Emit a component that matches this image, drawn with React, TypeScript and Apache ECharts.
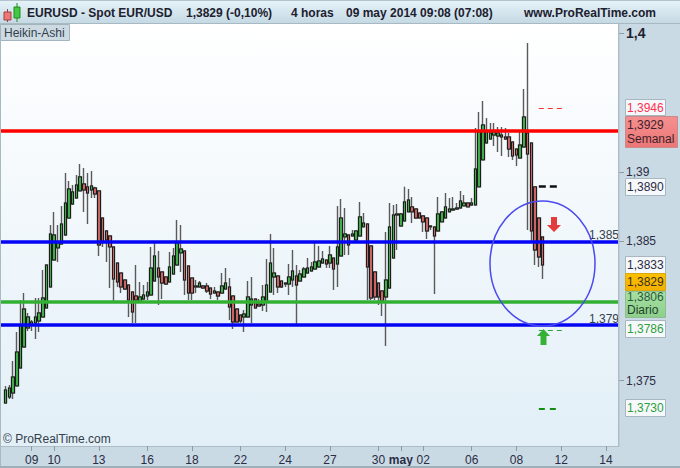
import React, { useEffect, useRef } from "react";
import * as echarts from "echarts";

// Prices in 1/100000 of a unit, one entry per 4-hour Heikin-Ashi candle
const candleOpen = [
  137338,137381,137410,137461,137590,137741,137878,137921,137914,137928,
  137957,138022,138173,138367,138454,138482,138547,138669,138770,138813,
  138864,138914,138893,138871,138885,138864,138669,138576,138540,138461,
  138345,138273,138223,138187,138137,138108,138065,138086,138108,138115,
  138216,138309,138281,138245,138209,138266,138331,138418,138432,138324,
  138237,138180,138173,138180,138180,138165,138129,138137,138129,138158,
  138173,138108,138014,137971,137957,137957,138043,138086,138050,138043,
  138065,138137,138245,138252,138216,138194,138194,138223,138252,138216,
  138245,138273,138288,138302,138317,138345,138367,138345,138381,138338,
  138396,138533,138547,138540,138511,138540,138605,138626,138468,138281,
  138201,138144,138101,138165,138381,138691,138612,138648,138713,138749,
  138734,138705,138684,138669,138612,138605,138576,138641,138669,138713,
  138727,138734,138741,138756,138777,138763,138763,138893,139087,139209,
  139237,139266,139259,139266,139252,139252,139216,139165,139101,139180,
  139281,139209,138893,138669,138533,
];
const candleClose = [
  137432,137446,137525,137705,137899,138014,137957,137899,137957,137986,
  138094,138331,138554,138547,138490,138626,138777,138878,138857,138907,
  138965,138871,138849,138900,138842,138475,138497,138511,138461,138230,
  138209,138173,138158,138079,137993,138079,138101,138115,138137,138309,
  138396,138245,138201,138194,138317,138396,138490,138446,138223,138129,
  138129,138173,138201,138165,138144,138122,138144,138108,138180,138201,
  138029,137921,137921,137928,137978,138101,138086,138022,138036,138101,
  138187,138345,138273,138173,138173,138201,138245,138288,138187,138266,
  138302,138309,138317,138353,138360,138374,138338,138403,138302,138461,
  138669,138554,138475,138554,138576,138677,138633,138317,138094,138101,
  138101,138072,138223,138605,138691,138698,138698,138785,138799,138713,
  138669,138669,138641,138576,138605,138540,138698,138713,138749,138734,
  138734,138741,138792,138777,138749,138777,139022,139288,139338,139288,
  139281,139288,139281,139252,139237,139165,139115,139122,139194,139396,
  139129,138576,138439,138389,138331,
];
const candleLow = [
  137338,137367,137367,137461,137590,137741,137856,137856,137799,137849,
  137957,138022,138173,138367,138353,138482,138540,138669,138763,138813,
  138864,138713,138626,138813,138813,138396,138461,138353,138165,138072,
  138173,138129,138151,137957,137914,137914,138065,138079,138079,138115,
  138216,138043,138086,138187,138209,138266,138331,138281,138115,138079,
  138079,138129,138173,138165,138129,138086,138129,138079,138129,138158,
  137935,137871,137921,137914,137849,137957,137914,138022,138036,138000,
  137993,138137,138115,138129,138165,138173,138115,138173,137906,138216,
  138245,138273,138288,138302,138317,138345,138309,138309,138151,138173,
  138396,138403,138403,138540,138511,138540,138605,138079,138079,138079,
  138043,137964,137749,138165,138381,138439,138612,138648,138713,138633,
  138669,138669,138569,138518,138583,138122,138576,138641,138669,138713,
  138720,138727,138741,138756,138749,138756,138763,138893,139087,139209,
  139237,139187,139144,139115,139237,139108,139087,139043,139101,139180,
  138583,138490,138331,138317,138230,
];
const candleHigh = [
  137461,137468,137640,137849,138079,138129,137986,137935,138094,138094,
  138295,138331,138619,138713,138619,138756,138993,138936,138907,138979,
  139058,139029,138993,139008,138893,138864,138669,138583,138540,138461,
  138345,138273,138223,138187,138137,138331,138209,138187,138209,138461,
  138490,138432,138281,138245,138425,138454,138655,138619,138432,138324,
  138237,138223,138216,138187,138201,138165,138173,138137,138273,138309,
  138237,138108,138014,137971,138007,138216,138245,138086,138086,138187,
  138374,138554,138454,138252,138216,138201,138338,138439,138331,138295,
  138317,138381,138353,138490,138468,138432,138367,138468,138381,138756,
  138806,138741,138547,138583,138576,138785,138705,138626,138468,138281,
  138201,138144,138569,138777,138763,138770,138705,138893,138878,138821,
  138734,138705,138684,138669,138612,138605,138821,138713,138849,138813,
  138821,138777,138864,138835,138777,138813,139317,139432,139511,139388,
  139353,139353,139324,139324,139317,139281,139216,139165,139302,139597,
  139928,139209,138893,138669,138533,
];

const tickSlots = [8, 14, 26, 39, 51, 64, 76, 88, 101, 107, 113, 126, 138, 150, 162];
const tickLabels = ["09", "10", "13", "16", "18", "22", "24", "27", "30", "may", "02", "06", "08", "12", "14"];
const slotCount = 166;

const yTicks = [1.375, 1.385, 1.39, 1.4];
const levelWeekly = 1.39295;
const levelBlueHigh = 1.385;
const levelDaily = 1.38063;
const levelBlueLow = 1.379;
const dashRed = 1.3946;
const dashBlack = 1.389;
const dashGreenHigh = 1.3786;
const dashGreenLow = 1.373;

const FONT = "Liberation Sans";
const DARK = "#2c2c44";

const toPrice = (v: number) => v / 100000;
const comma = (v: number) => String(v).replace(".", ",");

function txt(x: number, y: number, text: string, extra: any = {}) {
  return {
    type: "text",
    x,
    y,
    z: 20,
    silent: true,
    style: { text, fontFamily: FONT, fontSize: 12, fill: DARK, textVerticalAlign: "middle", ...extra },
  };
}

function box(x: number, y: number, w: number, h: number, fill: any, stroke: string) {
  return { type: "rect", z: 19, silent: true, shape: { x: x + 0.5, y: y + 0.5, width: w, height: h }, style: { fill, stroke, lineWidth: 1 } };
}

const vGrad = (a: string, b: string) =>
  new echarts.graphic.LinearGradient(0, 0, 0, 1, [
    { offset: 0, color: a },
    { offset: 1, color: b },
  ]);

function buildGraphic() {
  const els: any[] = [];
  // header
  els.push({ type: "rect", z: 18, silent: true, shape: { x: 0, y: 0, width: 680, height: 23 }, style: { fill: vGrad("#e6f3f9", "#c5d9e4") } });
  els.push({ type: "rect", z: 18, silent: true, shape: { x: 0, y: 23, width: 680, height: 1 }, style: { fill: "#a9b9c2" } });
  els.push({ type: "rect", z: 18, silent: true, shape: { x: 0, y: 0, width: 680, height: 1 }, style: { fill: "#b4c4cd" } });
  // left and bottom edges
  els.push({ type: "rect", z: 18, silent: true, shape: { x: 0, y: 24, width: 1, height: 444 }, style: { fill: "#a9b9c2" } });
  els.push({ type: "rect", z: 18, silent: true, shape: { x: 0, y: 466, width: 680, height: 2 }, style: { fill: "#9fafb8" } });
  els.push({ type: "rect", z: 18, silent: true, shape: { x: 618, y: 24, width: 1.4, height: 422 }, style: { fill: "#aebcc5" } });
  // icon
  els.push({ type: "line", z: 19, silent: true, shape: { x1: 7.5, y1: 9, x2: 7.5, y2: 22 }, style: { stroke: "#a04040", lineWidth: 1 } });
  els.push({ type: "rect", z: 20, silent: true, shape: { x: 4, y: 12, width: 7, height: 8 }, style: { fill: "#ee7878", stroke: "#a04040", lineWidth: 1 } });
  els.push({ type: "line", z: 19, silent: true, shape: { x1: 17, y1: 3, x2: 17, y2: 22 }, style: { stroke: "#208a20", lineWidth: 1 } });
  els.push({ type: "rect", z: 20, silent: true, shape: { x: 14, y: 7, width: 6, height: 11 }, style: { fill: "#42c842", stroke: "#208a20", lineWidth: 1 } });
  // header texts
  const bold = { fontWeight: "bold", fill: "#20202e" };
  els.push(txt(27, 13, "EURUSD - Spot EUR/USD", bold));
  els.push(txt(186, 13, "1,3829 (-0,10%)", bold));
  els.push(txt(291, 13, "4 horas", bold));
  els.push(txt(346, 13, "09 may 2014 09:08 (07:08)", bold));
  els.push(txt(524, 13, "www.ProRealTime.com", bold));
  // study tag
  els.push(box(0, 24, 69, 16, "#cddae2", "#a4b4be"));
  els.push(txt(4, 32.5, "Heikin-Ashi", { fill: "#33404c" }));
  els.push(txt(3, 439, "© ProRealTime.com", { fill: "#33404c" }));
  // price tags
  const tags: [number, number, number, number, any, string, string, string][] = [
    [625, 99, 40, 16, "#f6f9fb", "#a8b6c0", "1,3946", "#ff3050"],
    [625, 178, 40, 17, "#f6f9fb", "#a8b6c0", "1,3890", DARK],
    [625, 256, 40, 17, "#f6f9fb", "#a8b6c0", "1,3833", DARK],
    [625, 320, 40, 17, "#f6f9fb", "#a8b6c0", "1,3786", "#2f9e40"],
    [625, 399, 40, 17, "#f6f9fb", "#a8b6c0", "1,3730", "#2f9e40"],
  ];
  tags.forEach(([x, y, w, h, fill, stroke, t, color]) => {
    els.push(box(x, y, w, h, fill, stroke));
    els.push(txt(x + 2, y + h / 2 + 0.5, t, { fill: color }));
  });
  els.push(box(625, 116, 52, 31, vGrad("#f59090", "#ec7676"), "#c88a8a"));
  els.push(txt(627, 124.5, "1,3929", { fill: "#40222a" }));
  els.push(txt(627, 139, "Semanal", { fill: "#40222a" }));
  els.push(box(625, 273, 40, 17, vGrad("#fcc000", "#f2b000"), "#d8a810"));
  els.push(txt(627, 282, "1,3829", { fill: "#3a3020" }));
  els.push(box(625, 291, 40, 26, vGrad("#a8e0a4", "#8ccf8a"), "#90bc92"));
  els.push(txt(627, 297, "1,3806", { fill: "#2c5a3a" }));
  els.push(txt(627, 310, "Diario", { fill: "#24402c" }));
  // circle and arrows
  els.push({
    type: "ellipse",
    z: 15,
    silent: true,
    shape: { cx: 542.5, cy: 263.5, rx: 52.5, ry: 62.5 },
    style: { fill: "none", stroke: "#4a4aee", lineWidth: 1.5 },
  });
  els.push({
    type: "polygon",
    z: 16,
    silent: true,
    shape: { points: [[551, 217], [557, 217], [557, 225], [561, 225], [554, 232], [547, 225], [551, 225]] },
    style: { fill: "#e23c3c" },
  });
  els.push({
    type: "polygon",
    z: 16,
    silent: true,
    shape: { points: [[543.5, 329], [550, 336], [546.5, 336], [546.5, 345], [540.5, 345], [540.5, 336], [537, 336]] },
    style: { fill: "#36b036" },
  });
  return els;
}

const App = () => {
  const ref = useRef<HTMLDivElement>(null);
  useEffect(() => {
    const chart = echarts.init(ref.current!, undefined, { renderer: "svg" });
    const categories: string[] = Array.from({ length: slotCount }, () => "");
    tickSlots.forEach((s, i) => {
      categories[s] = tickLabels[i];
    });
    const wickData: number[][] = [[NaN, NaN, NaN, NaN]];
    const bodyData: number[][] = [[NaN, NaN, NaN, NaN]];
    candleOpen.forEach((o, i) => {
      const c = candleClose[i];
      wickData.push([toPrice(o), toPrice(c), toPrice(candleLow[i]), toPrice(candleHigh[i])]);
      bodyData.push([toPrice(o), toPrice(c), toPrice(Math.min(o, c)), toPrice(Math.max(o, c))]);
    });
    const hLine = (value: number, color: string, width: number, label?: string) => ({
      yAxis: value,
      lineStyle: { color, width, type: "solid" },
      label: label
        ? { show: true, formatter: label, position: "insideEndTop", fontFamily: FONT, fontSize: 12, color: "#33404c", distance: 0 }
        : { show: false },
    });
    const dash = (value: number, from: number, to: number, color: string, width: number, pattern: number[]) => [
      { coord: [from, value], lineStyle: { color, width, type: pattern }, label: { show: false } },
      { coord: [to, value] },
    ];
    chart.setOption({
      animation: false,
      backgroundColor: "#c9dae4",
      graphic: buildGraphic(),
      grid: {
        left: -0.6,
        top: 24,
        width: 619.6,
        height: 422,
        show: true,
        borderWidth: 0,
        backgroundColor: vGrad("#ffffff", "#e2eff7"),
      },
      xAxis: {
        type: "category",
        data: categories,
        boundaryGap: true,
        axisLine: { show: true, lineStyle: { color: "#aebcc5", width: 1 } },
        axisTick: {
          show: true,
          alignWithLabel: true,
          length: 5,
          lineStyle: { color: "#8c9ca6" },
          interval: (_: number, v: string) => v !== "",
        },
        axisLabel: {
          interval: (_: number, v: string) => v !== "",
          fontFamily: FONT,
          fontSize: 12,
          color: DARK,
          margin: 8,
          formatter: (v: string) => (v === "may" ? "{b|may}" : v),
          rich: { b: { fontWeight: "bold", fontFamily: FONT, fontSize: 12, color: DARK } },
        },
        splitLine: { show: false },
      },
      yAxis: {
        type: "value",
        position: "right",
        min: 1.370288,
        max: 1.400647,
        scale: true,
        axisLine: { show: false },
        splitLine: { show: false },
        axisTick: { show: true, length: 5, customValues: yTicks, lineStyle: { color: "#8c9ca6" } },
        axisLabel: {
          customValues: yTicks,
          margin: 7,
          fontFamily: FONT,
          fontSize: 12,
          color: DARK,
          formatter: (v: number) => (v === 1.4 ? "{b|" + comma(v) + "}" : comma(v)),
          rich: { b: { fontWeight: "bold", fontFamily: FONT, fontSize: 14, color: "#20202e" } },
        },
      },
      series: [
        {
          name: "wicks",
          type: "candlestick",
          data: wickData,
          barWidth: 3,
          z: 2,
          silent: true,
          itemStyle: { color: "#6a6a6a", color0: "#6a6a6a", borderColor: "#5a5a5a", borderColor0: "#5a5a5a", borderColorDoji: "#5a5a5a", borderWidth: 1.4 },
        },
        {
          name: "EURUSD",
          type: "candlestick",
          data: bodyData,
          barWidth: 3,
          z: 3,
          silent: true,
          itemStyle: { color: "#3fae49", color0: "#c96464", borderColor: "#1c1c1c", borderColor0: "#1c1c1c", borderColorDoji: "#1c1c1c", borderWidth: 1 },
          markLine: {
            silent: true,
            symbol: "none",
            animation: false,
            precision: 5,
            z: 6,
            data: [
              hLine(levelWeekly, "#ff0000", 3.5),
              hLine(levelBlueHigh, "#0505f5", 3.5, "1,385"),
              hLine(levelDaily, "#33b033", 3.5),
              hLine(levelBlueLow, "#0505f5", 3.5, "1,379"),
              dash(dashRed, 144, 151, "#ff3030", 1, [5, 4]),
              dash(dashBlack, 144, 149, "#111111", 2.5, [7, 4]),
              dash(dashGreenHigh, 144, 151, "#2aa040", 1, [5, 4]),
              dash(dashGreenLow, 144, 149, "#109010", 2, [6, 5]),
            ],
          },
        },
      ],
    });
    return () => chart.dispose();
  }, []);
  return <div ref={ref} style={{ position: "absolute", left: 0, top: 0, width: 680, height: 468 }} />;
};

export default App;
